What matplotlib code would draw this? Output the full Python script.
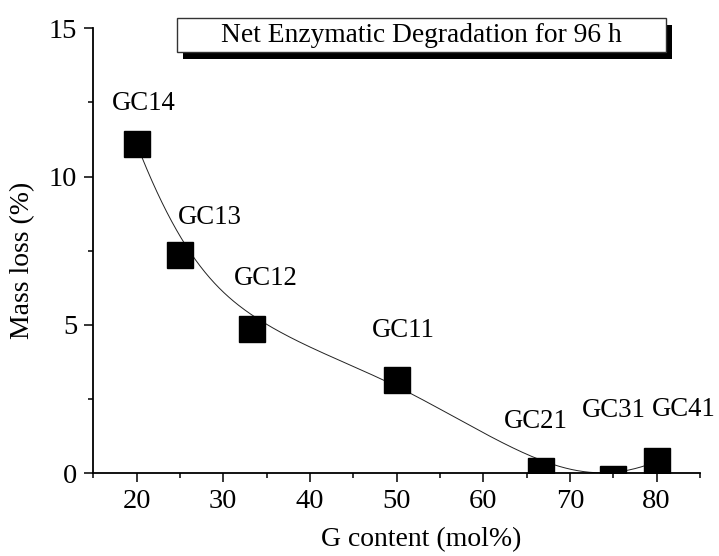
import numpy as np
import matplotlib
matplotlib.use("Agg")
import matplotlib.pyplot as plt
from matplotlib.patches import Rectangle

# ---- data ----
samples = ["GC14", "GC13", "GC12", "GC11", "GC21", "GC31", "GC41"]
g_content = [20.0, 25.0, 33.3, 50.0, 66.7, 75.0, 80.0]
mass_loss = [11.1, 7.36, 4.86, 3.16, 0.07, -0.19, 0.40]
x_ticks = [20, 30, 40, 50, 60, 70, 80]
y_ticks = [0, 5, 10, 15]
title_text = "Net Enzymatic Degradation for 96 h"

# label offsets (pixels) relative to markers
label_offsets = [(7, 41), (30, 37), (14, 51), (7, 49), (-6, 50), (0, 68), (27, 52)]

plt.rcParams['font.family'] = ['Liberation Serif', 'DejaVu Serif']


def bspline(ctrl_x, ctrl_y, degree=3, n=400):
    P = np.column_stack([ctrl_x, ctrl_y])
    m = len(P)
    inner = np.arange(1, m - degree)
    knots = np.concatenate([np.zeros(degree + 1), inner, np.full(degree + 1, m - degree)])
    ts = np.linspace(0, m - degree, n)
    ts[-1] -= 1e-9

    def basis(i, k, t):
        if k == 0:
            return 1.0 if knots[i] <= t < knots[i + 1] else 0.0
        a = 0.0
        d1 = knots[i + k] - knots[i]
        if d1 > 0:
            a += (t - knots[i]) / d1 * basis(i, k - 1, t)
        d2 = knots[i + k + 1] - knots[i + 1]
        if d2 > 0:
            a += (knots[i + k + 1] - t) / d2 * basis(i + 1, k - 1, t)
        return a

    out = np.array([sum(basis(i, degree, t) * P[i] for i in range(m)) for t in ts])
    return out[:, 0], out[:, 1]


W, H = 719, 556
fig = plt.figure(figsize=(W / 100, H / 100), dpi=100)
ax_l, ax_r, ax_t, ax_b = 93.3, 700.0, 28.3, 473.3
ax = fig.add_axes([ax_l / W, 1 - ax_b / H, (ax_r - ax_l) / W, (ax_b - ax_t) / H])

cx, cy = bspline(g_content, mass_loss)
ax.plot(cx, cy, color='#222222', lw=0.7, zorder=2)
ax.plot(g_content, mass_loss, linestyle='none', marker='s', markersize=18.5,
        color='black', zorder=3)

for name, x, y, (dx, dy) in zip(samples, g_content, mass_loss, label_offsets):
    ax.annotate(name, (x, y), xytext=(dx, dy), textcoords='offset pixels',
                ha='center', va='center', fontsize=19.3, annotation_clip=False)

ax.set_xlim(15, 85)
ax.set_ylim(0, 15)
ax.set_xticks(x_ticks)
ax.set_yticks(y_ticks)
ax.set_xticks(np.arange(15, 86, 5), minor=True)
ax.set_yticks(np.arange(0, 15.1, 2.5), minor=True)
for s in ['top', 'right']:
    ax.spines[s].set_visible(False)
for s in ['left', 'bottom']:
    ax.spines[s].set_linewidth(1.3)
ax.tick_params(which='major', direction='out', length=6.5, width=1.1, labelsize=20.5, pad=5)
ax.tick_params(which='minor', direction='out', length=3.5, width=1.1)

fig.text(421.5 / W, 1 - 540 / H, "G content (mol%)", ha='center', va='center', fontsize=20)
fig.text(23 / W, 1 - 260 / H, "Mass loss (%)", ha='center', va='center', rotation=90, fontsize=20)

# title box with shadow
fig.add_artist(Rectangle((183.3 / W, 1 - 59.3 / H), (672.3 - 183.3) / W, (59.3 - 25) / H,
                         transform=fig.transFigure, facecolor='black', edgecolor='black', lw=0))
fig.add_artist(Rectangle((176.7 / W, 1 - 51.7 / H), (665.7 - 176.7) / W, (51.7 - 18.3) / H,
                         transform=fig.transFigure, facecolor='white', edgecolor='#333333', lw=1.0))
fig.text(421.5 / W, 1 - 35.5 / H, title_text, ha='center', va='center', fontsize=19.8)

fig.savefig("out.png", dpi=100)
